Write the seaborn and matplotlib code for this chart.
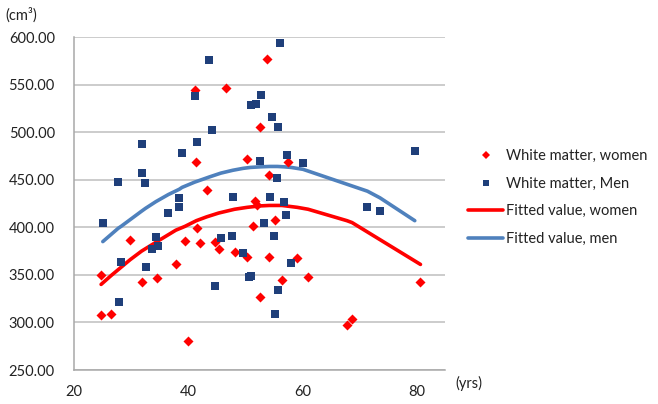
import matplotlib
matplotlib.use("Agg")
import matplotlib.pyplot as plt
import seaborn as sns
import pandas as pd
from matplotlib.lines import Line2D
from matplotlib.ticker import FormatStrFormatter

# ---- data ----
women_age = [24.7, 24.7, 26.4, 29.8, 31.8, 34.5, 37.8, 39.4, 39.9, 41.2, 41.4, 41.6,
             42.0, 43.2, 44.7, 45.3, 46.6, 48.1, 50.3, 50.3, 51.3, 51.6, 52.1, 52.5,
             52.5, 53.8, 54.1, 54.2, 55.2, 56.4, 57.4, 59.1, 61.0, 67.8, 68.7, 80.7]
women_wm = [350, 308, 309, 387, 342, 347, 361, 386, 280, 544, 469, 399,
            383, 439, 385, 377, 547, 374, 472, 369, 401, 428, 424, 506,
            327, 577, 455, 369, 408, 345, 469, 368, 348, 297, 304, 342]

men_age = [25.0, 27.7, 27.8, 28.2, 31.8, 31.9, 32.4, 32.5, 33.6, 34.3, 34.6, 36.5,
           38.4, 38.4, 38.9, 41.1, 41.6, 43.7, 44.1, 44.7, 45.7, 47.7, 47.8, 49.6,
           50.6, 50.9, 50.9, 51.8, 52.6, 52.8, 53.3, 54.3, 54.6, 55.0, 55.2, 55.6,
           55.7, 55.8, 56.0, 56.8, 57.1, 57.3, 58.0, 60.1, 71.4, 73.6, 79.7]
men_wm = [405, 448, 322, 364, 457, 488, 447, 358, 377, 390, 380, 415,
          421, 431, 478, 538, 490, 576, 502, 338, 389, 391, 432, 373,
          348, 349, 529, 530, 470, 539, 405, 432, 516, 391, 309, 452,
          334, 505, 594, 427, 413, 476, 362, 468, 421, 417, 480]

fit_women_age = [24.7, 26.4, 29.8, 31.8, 34.5, 37.8, 39.4, 41.4, 43.2, 45.3, 48.1,
                 50.3, 52.5, 54.2, 56.4, 59.1, 61.0, 67.8, 68.7, 80.7]
fit_women_val = [340, 349, 366, 375, 385, 397, 401, 407, 411, 415, 419,
                 421, 422.5, 423, 423, 421, 419, 407, 405, 361]

fit_men_age = [25.0, 27.7, 28.2, 31.8, 32.5, 34.3, 36.5, 38.4, 38.9, 41.1, 43.7,
               44.7, 45.7, 47.8, 49.6, 50.9, 52.6, 54.3, 55.6, 56.8, 58.0, 60.1,
               71.4, 73.6, 79.7]
fit_men_val = [385, 399, 401, 417, 420, 427, 434.5, 440, 442, 447.5, 453,
               455, 457, 460, 462, 463, 463.6, 464, 464, 463.6, 463, 461,
               438, 431, 407]

x_ticks = [20, 40, 60, 80]
y_ticks = [250, 300, 350, 400, 450, 500, 550, 600]
labels = ["White matter, women", "White matter, Men",
          "Fitted value, women", "Fitted value, men"]

# ---- drawing ----
sns.set_theme(style="white")
plt.rcParams["font.family"] = ["Lato", "DejaVu Sans"]

RED = "#FF0000"
NAVY = "#1F3F7A"
BLUE = "#4F81BD"
GRID = "#BEBEBE"
TXT = "#222222"

fig = plt.figure(figsize=(6.58, 4.04), dpi=100)
ax = fig.add_axes([74.3 / 658, 34 / 404, (445 - 74.3) / 658, (370 - 37.1) / 404])

dw = pd.DataFrame({"age": women_age, "wm": women_wm})
dm = pd.DataFrame({"age": men_age, "wm": men_wm})
fw = pd.DataFrame({"age": fit_women_age, "val": fit_women_val})
fm = pd.DataFrame({"age": fit_men_age, "val": fit_men_val})

sns.lineplot(data=fw, x="age", y="val", ax=ax, color=RED, linewidth=2.6,
             sort=False, estimator=None, zorder=3)
sns.lineplot(data=fm, x="age", y="val", ax=ax, color=BLUE, linewidth=2.6,
             sort=False, estimator=None, zorder=3)
sns.scatterplot(data=dw, x="age", y="wm", ax=ax, marker="D", color=RED,
                s=26, linewidth=0, zorder=4)
sns.scatterplot(data=dm, x="age", y="wm", ax=ax, marker="s", color=NAVY,
                s=30, linewidth=0, zorder=4)

ax.set_xlim(20, 85)
ax.set_ylim(250, 600)
ax.set_xticks(x_ticks)
ax.set_yticks(y_ticks)
ax.yaxis.set_major_formatter(FormatStrFormatter("%.2f"))
ax.set_xlabel("")
ax.set_ylabel("")

ax.yaxis.grid(True, color=GRID, linewidth=1.1)
ax.xaxis.grid(False)
ax.set_axisbelow(True)
for side in ["top", "right"]:
    ax.spines[side].set_visible(False)
for side in ["left", "bottom"]:
    ax.spines[side].set_color("#A8A8A8")
    ax.spines[side].set_linewidth(1.1)

ax.tick_params(axis="both", which="major", direction="out", length=5,
               width=1.0, color="#A8A8A8", labelsize=10.5, labelcolor=TXT)
ax.tick_params(axis="y", pad=9)
ax.tick_params(axis="x", pad=6)

fig.text(5 / 658, 1 - 15 / 404, "(cm³)", fontsize=10.5, color=TXT,
         ha="left", va="center")
fig.text(455 / 658, 1 - 383 / 404, "(yrs)", fontsize=10.5, color=TXT,
         ha="left", va="center")

handles = [
    Line2D([], [], linestyle="none", marker="D", color=RED, markersize=3.6,
           markeredgewidth=0),
    Line2D([], [], linestyle="none", marker="s", color=NAVY, markersize=3.8,
           markeredgewidth=0),
    Line2D([], [], color=RED, linewidth=2.6),
    Line2D([], [], color=BLUE, linewidth=2.6),
]
fig.legend(handles, labels, loc="center left",
           bbox_to_anchor=(468 / 658, 1 - 197.5 / 404), frameon=False,
           fontsize=10.5, labelcolor=TXT, handlelength=2.4, handletextpad=0.2,
           labelspacing=0.92, borderpad=0, borderaxespad=0)

fig.savefig("out.png", dpi=100)
